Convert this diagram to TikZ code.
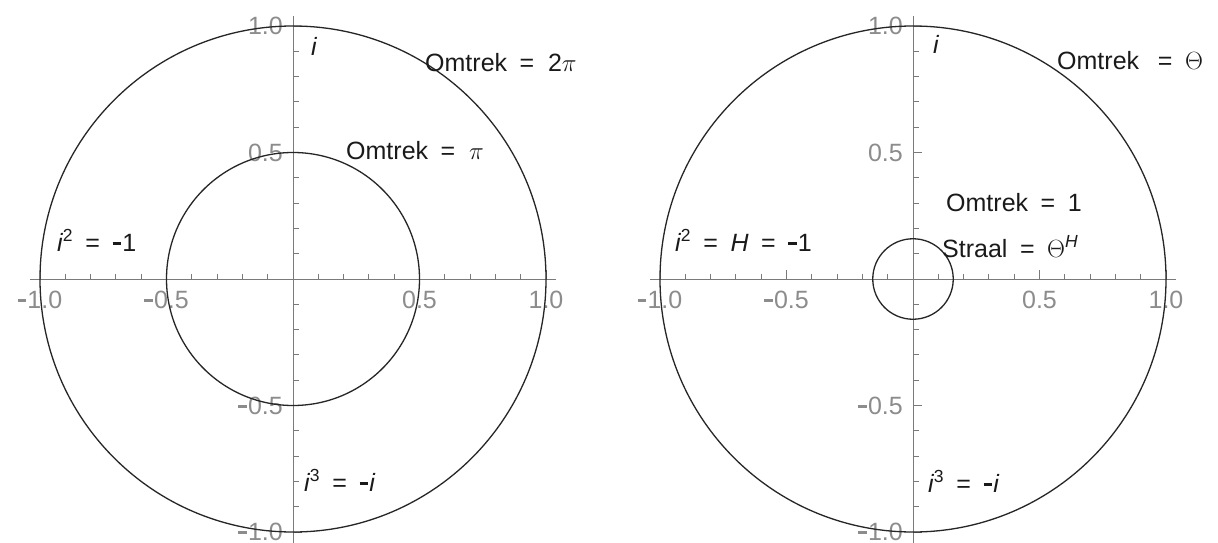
\documentclass[tikz,border=0pt]{standalone}
\usepackage{fontspec}
\setmainfont{Liberation Sans}
\definecolor{axgray}{HTML}{7A7A7A}
\definecolor{lblgray}{HTML}{8C8C8C}
\definecolor{circblack}{HTML}{262626}
\definecolor{txtblack}{HTML}{1A1A1A}
\newcommand{\mn}{\rule[0.26em]{0.34em}{0.11em}\hspace{0.05em}}
\newcommand{\gp}{\hspace{0.5em}}
\tikzset{
  axline/.style={draw=axgray, line width=1pt},
  tickline/.style={draw=axgray, line width=0.9pt},
  circline/.style={draw=circblack, line width=1.3pt},
  ticklab/.style={text=lblgray, font=\fontsize{25}{30}\selectfont, inner sep=0pt},
  lab/.style={text=txtblack, font=\fontsize{25}{30}\selectfont, inner sep=0pt, anchor=base west},
}
\begin{document}
\begin{tikzpicture}[x=1pt,y=-1pt]
\useasboundingbox (0,0) rectangle (1218,543);
\fill[white] (0,0) rectangle (1218,543);
\foreach \ox/\p in {293/L, 913/R}{
  % axes
  \coordinate (hl\p) at ({\ox-263},279);
  \coordinate (hr\p) at ({\ox+263},279);
  \coordinate (vt\p) at (\ox,16);
  \coordinate (vb\p) at (\ox,543);
  \draw[axline] (hl\p) -- (hr\p);
  \draw[axline] (vt\p) -- (vb\p);
  % ticks
  \foreach \k in {-10,...,10}{
    \pgfmathsetmacro\tlen{ifthenelse(mod(\k,5)==0,9,5.5)}
    \draw[tickline] ({\ox+25.3*\k},279) -- ({\ox+25.3*\k},{279-\tlen});
    \draw[tickline] (\ox,{279-25.3*\k}) -- ({\ox+\tlen},{279-25.3*\k});
  }
  % tick labels
  \foreach \k/\t in {-10/{\mn1.0}, -5/{\mn0.5}, 5/{0.5}, 10/{1.0}}{
    \node[ticklab, anchor=base] (xl\p\k) at ({\ox+25.3*\k},308) {\t};
    \node[ticklab, anchor=east] (yl\p\k) at ({\ox-10},{279-25.3*\k}) {\t};
  }
  \node[circle, circline, minimum size=506pt, inner sep=0pt] (big\p) at (\ox,279) {};
}
% left plot
\node[circle, circline, minimum size=253pt, inner sep=0pt] (midL) at (293,279) {};
\node[lab] (iL) at (311,56) {\itshape i};
\node[lab] (om2pi) at (425,71) {Omtrek\gp=\hspace{0.55em}2$\pi$};
\node[lab] (ompi) at (346,159) {Omtrek\gp=\hspace{0.55em}$\pi$};
\node[lab] (i2L) at (57,251) {\itshape i\textsuperscript{\upshape 2}\upshape\gp=\gp\mn1};
\node[lab] (i3L) at (304,491) {\itshape i\textsuperscript{\upshape 3}\upshape\gp=\gp\mn\itshape i};
% right plot
\node[circle, circline, minimum size=80.5pt, inner sep=0pt] (smallR) at (913,279) {};
\node[lab] (iR) at (933,54) {\itshape i};
\node[lab] (omth) at (1057,70) {Omtrek\hspace{0.75em}=\gp$\Theta$};
\node[lab] (om1) at (946,211) {Omtrek\gp=\gp1};
\node[lab] (str) at (942,257) {Straal\gp=\gp$\Theta$\textsuperscript{\itshape H}};
\node[lab] (i2R) at (675,251) {\itshape i\textsuperscript{\upshape 2}\upshape\gp=\gp\itshape H\upshape\gp=\gp\mn1};
\node[lab] (i3R) at (928,492) {\itshape i\textsuperscript{\upshape 3}\upshape\gp=\gp\mn\itshape i};
\end{tikzpicture}
\end{document}
